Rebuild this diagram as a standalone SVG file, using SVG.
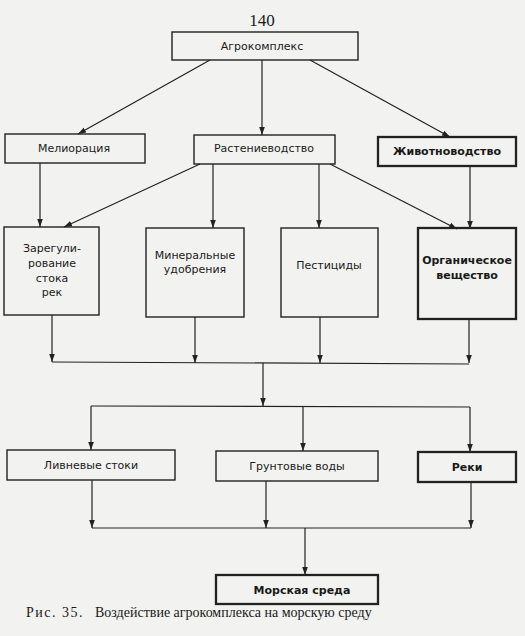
<svg xmlns="http://www.w3.org/2000/svg" width="525" height="636" viewBox="0 0 525 636">
<style>
.bg{fill:#f2f2f0}
.box{fill:none;stroke:#222;stroke-width:1.4}
.bold{stroke-width:2.3}
.t{font-family:"DejaVu Sans","Liberation Sans",sans-serif;font-size:11px;fill:#1a1a1a;text-anchor:middle}
.tb{font-weight:bold}
.c{fill:none;stroke:#222;stroke-width:1.2}
.cap{font-family:"Liberation Serif",serif;fill:#1a1a1a}
</style>
<defs>
<marker id="ah" viewBox="0 0 10 10" refX="10" refY="5" markerWidth="8" markerHeight="8" markerUnits="userSpaceOnUse" orient="auto">
<path d="M0,1.5 L10,5 L0,8.5 z" fill="#222"/>
</marker>
</defs>
<rect class="bg" x="0" y="0" width="525" height="636"/>
<text class="cap" x="262" y="26" font-size="17" text-anchor="middle">140</text>

<g id="connectors">
<line class="c" x1="210" y1="60" x2="78" y2="134" marker-end="url(#ah)"/>
<line class="c" x1="262" y1="60" x2="262" y2="135" marker-end="url(#ah)"/>
<line class="c" x1="310" y1="60" x2="450" y2="137" marker-end="url(#ah)"/>
<line class="c" x1="40" y1="163" x2="40" y2="227" marker-end="url(#ah)"/>
<line class="c" x1="200" y1="164" x2="64" y2="227" marker-end="url(#ah)"/>
<line class="c" x1="213" y1="164" x2="213" y2="228" marker-end="url(#ah)"/>
<line class="c" x1="319" y1="164" x2="319" y2="228" marker-end="url(#ah)"/>
<line class="c" x1="330" y1="164" x2="457" y2="229" marker-end="url(#ah)"/>
<line class="c" x1="470" y1="166" x2="470" y2="229" marker-end="url(#ah)"/>
<line class="c" x1="52" y1="315" x2="52" y2="362" marker-end="url(#ah)"/>
<line class="c" x1="195" y1="317" x2="195" y2="363" marker-end="url(#ah)"/>
<line class="c" x1="320" y1="317" x2="320" y2="363" marker-end="url(#ah)"/>
<line class="c" x1="469" y1="319" x2="469" y2="363" marker-end="url(#ah)"/>
<line class="c" x1="52" y1="362" x2="469" y2="364"/>
<line class="c" x1="263" y1="363" x2="263" y2="406" marker-end="url(#ah)"/>
<line class="c" x1="91" y1="406" x2="470" y2="407"/>
<line class="c" x1="91" y1="406" x2="91" y2="450" marker-end="url(#ah)"/>
<line class="c" x1="303" y1="406" x2="303" y2="451" marker-end="url(#ah)"/>
<line class="c" x1="470" y1="407" x2="470" y2="452" marker-end="url(#ah)"/>
<line class="c" x1="92" y1="480" x2="92" y2="528" marker-end="url(#ah)"/>
<line class="c" x1="266" y1="481" x2="266" y2="528" marker-end="url(#ah)"/>
<line class="c" x1="471" y1="482" x2="471" y2="528" marker-end="url(#ah)"/>
<line class="c" x1="92" y1="528" x2="471" y2="528"/>
<line class="c" x1="305" y1="528" x2="305" y2="575" marker-end="url(#ah)"/>
</g>

<g id="agro"><rect class="box" x="172" y="32" width="186" height="28"/><text class="t" x="262" y="50">Агрокомплекс</text></g>
<g id="melio"><rect class="box" x="5" y="134" width="140" height="29"/><text class="t" x="74" y="152">Мелиорация</text></g>
<g id="rast"><rect class="box" x="194" y="135" width="141" height="29"/><text class="t" x="264" y="152">Растениеводство</text></g>
<g id="zhiv"><rect class="box bold" x="378" y="137" width="138" height="29"/><text class="t tb" x="447" y="155">Животноводство</text></g>

<g id="zareg"><rect class="box" x="4" y="227" width="95" height="88"/>
<text class="t" x="52" y="252">Зарегули-</text><text class="t" x="52" y="267">рование</text><text class="t" x="52" y="282">стока</text><text class="t" x="52" y="296">рек</text></g>
<g id="miner"><rect class="box" x="146" y="228" width="98" height="89"/>
<text class="t" x="195" y="259">Минеральные</text><text class="t" x="195" y="273">удобрения</text></g>
<g id="pest"><rect class="box" x="281" y="228" width="97" height="89"/>
<text class="t" x="329" y="269">Пестициды</text></g>
<g id="organ"><rect class="box bold" x="418" y="228" width="98" height="91"/>
<text class="t tb" x="467" y="264">Органическое</text><text class="t tb" x="467" y="279">вещество</text></g>

<g id="livn"><rect class="box" x="7" y="450" width="168" height="30"/><text class="t" x="91" y="469">Ливневые стоки</text></g>
<g id="grunt"><rect class="box" x="216" y="451" width="162" height="30"/><text class="t" x="297" y="470">Грунтовые воды</text></g>
<g id="reki"><rect class="box bold" x="418" y="452" width="98" height="30"/><text class="t tb" x="467" y="471">Реки</text></g>

<g id="more"><rect class="box bold" x="216" y="575" width="162" height="29"/><text class="t tb" x="302" y="594">Морская среда</text></g>

<text class="cap" x="26" y="617" font-size="14" letter-spacing="1.5">Рис. 35.</text>
<text class="cap" x="95" y="617" font-size="14">Воздействие агрокомплекса на морскую среду</text>
</svg>
